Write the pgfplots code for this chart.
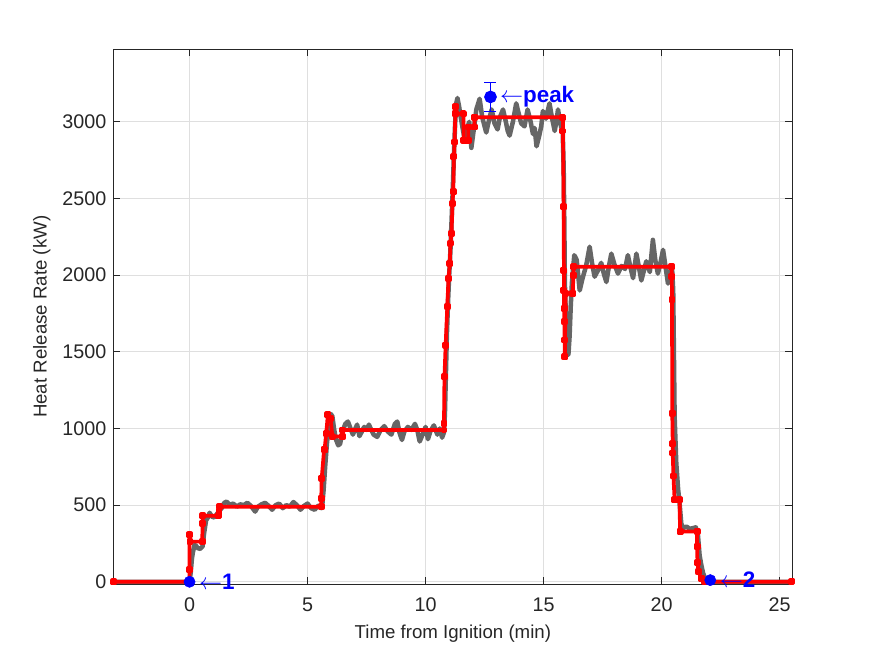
\documentclass[border=0pt]{standalone}
\usepackage{fontspec}
\setmainfont{Liberation Sans}
\usepackage{pgfplots}
\pgfplotsset{compat=1.18}
\definecolor{mgray}{RGB}{102,102,102}
\definecolor{axc}{RGB}{38,38,38}
\definecolor{gridc}{RGB}{223,223,223}
\begin{document}
\begin{tikzpicture}
\begin{axis}[
  scale only axis, width=508.6pt, height=401pt,
  xmin=-3.21, xmax=25.52, ymin=-15, ymax=3472,
  xtick={0,5,...,25}, ytick={0,500,...,3000},
  tick pos=both, tick align=inside, major tick length=5pt,
  grid=major, major grid style={draw=gridc, line width=0.5pt},
  axis line style={draw=axc, line width=0.6pt},
  tick style={draw=axc, line width=0.6pt},
  ticklabel style={font=\fontsize{14.8}{17}\selectfont, text=axc},
  xticklabel style={yshift=-7pt},
  yticklabel style={xshift=-2pt},
  /pgf/number format/assume math mode=true,
  /pgf/number format/1000 sep={},
  scaled ticks=false,
  xlabel={Time from Ignition (min)}, ylabel={Heat Release Rate (kW)},
  label style={font=\fontsize{14}{16}\selectfont, text=axc},
  xlabel style={at={(axis description cs:0.5,-0.0935)}, anchor=center},
  ylabel style={at={(axis description cs:-0.1062,0.5)}, anchor=center, rotate=0},
  clip=false,
]
\coordinate (BL) at (rel axis cs:0,0);
\coordinate (TR) at (rel axis cs:1,1);
% measured (gray)
\addplot[mgray, line width=3.4pt, line join=round] coordinates {
(-3.21,0) (0,0) (0.05,60) (0.1,150) (0.14,190) (0.21,240) (0.28,235) (0.34,220) (0.45,215) (0.55,230)
(0.62,320) (0.7,400) (0.78,420) (0.85,450) (0.95,425) (1.05,420) (1.15,440) (1.25,460) (1.37,482)
(1.47,515) (1.57,523) (1.7,502) (1.85,510) (2.0,490) (2.15,505) (2.3,500) (2.45,515) (2.6,495)
(2.78,458) (2.9,490) (3.05,505) (3.2,515) (3.35,495) (3.5,470) (3.65,500) (3.8,510) (3.95,480)
(4.1,500) (4.25,490) (4.4,520) (4.55,500) (4.7,470) (4.85,495) (5.0,510) (5.15,480) (5.3,470)
(5.45,495) (5.58,480) (5.63,510) (5.68,600) (5.75,760) (5.82,900) (5.9,1020) (5.98,1095) (6.05,1080)
(6.12,1000) (6.2,930) (6.3,890) (6.38,900) (6.48,980) (6.6,1030) (6.71,1045) (6.82,1000) (6.92,960)
(7.0,990) (7.1,1025) (7.2,950) (7.3,980) (7.4,1010) (7.5,990) (7.6,1025) (7.7,990) (7.8,960)
(7.95,945) (8.1,990) (8.25,1015) (8.4,980) (8.55,960) (8.7,1030) (8.8,1045) (8.9,970) (9.0,925)
(9.1,980) (9.25,1010) (9.4,990) (9.55,1030) (9.65,990) (9.75,915) (9.9,970) (10.0,1010) (10.1,930)
(10.2,980) (10.35,1020) (10.5,960) (10.6,1000) (10.7,940) (10.78,975)
(10.82,1100) (10.86,1350) (10.9,1600) (10.95,1820) (11.0,2000) (11.05,2150) (11.1,2350) (11.15,2550)
(11.2,2780) (11.25,2980) (11.3,3120) (11.35,3155) (11.42,3100) (11.5,3020) (11.58,2950) (11.65,2890)
(11.75,2950) (11.85,3000) (11.94,2830) (12.05,2960) (12.15,3080) (12.29,3150) (12.4,3030) (12.5,2970)
(12.57,2930) (12.7,3020) (12.8,3080) (12.92,2990) (13.05,2950) (13.15,3030) (13.28,3080) (13.4,3000)
(13.48,2940) (13.56,2910) (13.7,3000) (13.84,3120) (13.95,3050) (14.05,2990) (14.19,2970) (14.32,3080)
(14.45,3000) (14.55,2920) (14.62,2960) (14.7,2840) (14.8,2900) (14.9,2970) (14.97,3070) (15.1,3020)
(15.25,3120) (15.35,3030) (15.47,2940) (15.55,3010) (15.61,3080) (15.7,3000) (15.75,2960) (15.8,2990)
(15.85,2700) (15.88,2300) (15.9,1950) (15.95,1700) (16.0,1520) (16.05,1480) (16.1,1600) (16.15,1800)
(16.2,1950) (16.3,2130) (16.4,2100) (16.53,1900) (16.65,1980) (16.8,2060) (16.95,2185) (17.05,2080)
(17.16,1990) (17.3,2030) (17.44,2080) (17.55,2010) (17.66,1955) (17.77,2060) (17.87,2140) (18.0,2070)
(18.15,2010) (18.3,2060) (18.45,2040) (18.57,2130) (18.68,2050) (18.79,1980) (18.93,2140) (19.04,2050)
(19.14,1965) (19.25,2030) (19.35,2090) (19.5,2020) (19.63,2230) (19.73,2100) (19.84,2010) (19.95,2080)
(20.06,2165) (20.17,2050) (20.27,1945) (20.36,2020) (20.44,2050) (20.49,1900) (20.55,1077) (20.62,773)
(20.7,600) (20.76,513) (20.83,382) (20.9,350) (21.05,360) (21.2,345) (21.33,350) (21.45,355)
(21.54,300) (21.61,170) (21.68,110) (21.75,60) (21.82,30) (21.9,10) (22.0,0) (25.52,0)
};
% model (red)
\addplot[red, line width=2.8pt, line join=round, mark=square*, mark size=1.2pt, mark options={solid}] coordinates {
(-3.21,0) (0,0) (0,78) (0,306) (0.02,262) (0.54,262) (0.55,382) (0.56,430) (1.24,430) (1.25,458) (1.27,490)
(5.58,490) (5.58,545) (5.6,676) (5.7,860) (5.72,860) (5.79,969) (5.86,1088) (5.98,1066) (6.05,947)
(6.48,947) (6.5,990) (10.78,990) (10.78,1034) (10.8,1337) (10.85,1544) (10.92,1794) (10.97,1978)
(11.03,2076) (11.05,2207) (11.1,2272) (11.14,2467) (11.17,2543) (11.2,2771) (11.23,2868) (11.26,3053)
(11.27,3097) (11.28,3053) (11.6,3053) (11.62,2880) (11.8,2880) (11.81,2966) (12.07,2966) (12.08,3030)
(15.82,3030) (15.82,2940) (15.85,2445) (15.86,2033) (15.86,1902) (15.87,1783) (15.88,1696) (15.89,1577)
(15.9,1468) (15.93,1881) (16.24,1881) (16.26,2000) (16.28,2054) (20.42,2054) (20.43,1990) (20.44,1840)
(20.45,1100) (20.47,900) (20.47,840) (20.5,690) (20.55,534) (20.76,534) (20.78,328) (21.5,328)
(21.5,230) (21.52,124) (21.56,67) (21.67,24) (21.82,2) (22.0,0) (25.52,0)
};
% events
\addplot[blue, only marks, mark=*, mark size=4.2pt] coordinates {(0,0) (22.06,11)};
\addplot[blue, line width=1.1pt, mark=*, mark size=4.2pt,
  error bars/.cd, y dir=both, y explicit,
  error bar style={line width=1.1pt, blue},
  error mark options={rotate=90, mark size=4.5pt, line width=1.1pt, blue}]
  coordinates {(12.75,3162) +- (0,95)};
\node[anchor=west, text=blue, inner sep=0pt, xshift=7pt, font=\bfseries\fontsize{16.8}{18}\selectfont] at (axis cs:0,0) {$\leftarrow$1};
\node[anchor=west, text=blue, inner sep=0pt, xshift=7pt, font=\bfseries\fontsize{16.8}{18}\selectfont] at (axis cs:22.06,11) {$\leftarrow$2};
\node[anchor=west, text=blue, inner sep=0pt, xshift=7pt, font=\bfseries\fontsize{16.8}{18}\selectfont] at (axis cs:12.75,3162) {$\leftarrow$peak};
\end{axis}
\pgfresetboundingbox
\path[use as bounding box] ([shift={(-85.31pt,-54.1pt)}]BL) rectangle ([shift={(62.3pt,37.05pt)}]TR);
\end{tikzpicture}
\end{document}
